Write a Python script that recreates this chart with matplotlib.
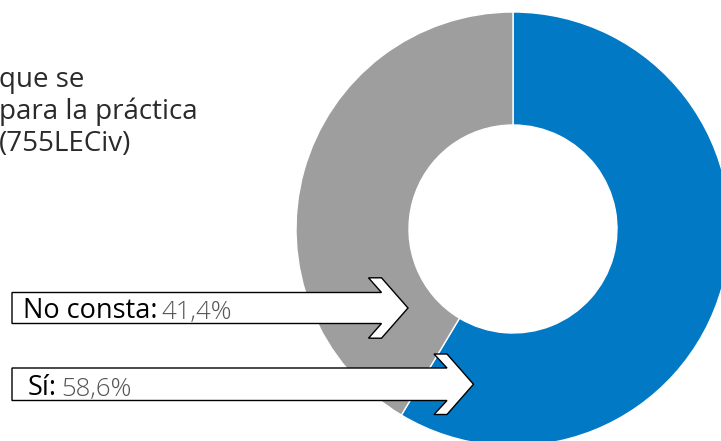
import matplotlib.pyplot as plt
from matplotlib.patches import Polygon

# Datos
categorias = ['Sí', 'No consta']
porcentajes = [58.6, 41.4]
colores = ['#0279c5', '#9e9e9e']
etiquetas_valor = ['58,6%', '41,4%']
titulo = ['que se', 'para la práctica', '(755LECiv)']

plt.rcParams['font.family'] = ['Open Sans', 'DejaVu Sans']

fig = plt.figure(figsize=(7.21, 4.41), dpi=100)
ax = fig.add_axes([0, 0, 1, 1])

# anillo (eje y invertido: counterclock=True se ve en sentido horario)
ax.pie(porcentajes, colors=colores, startangle=-90, counterclock=True,
       center=(513, 229), radius=217,
       wedgeprops=dict(width=113, edgecolor='white', linewidth=1))

ax.set_xlim(0, 721)
ax.set_ylim(441, 0)
ax.set_aspect('equal')
ax.axis('off')

# texto de cabecera (cortado a la izquierda)
for i, linea in enumerate(titulo):
    ax.text(-1, 87 + i * 32, linea, fontsize=20, color='#2a2a2a',
            va='baseline', ha='left')


def flecha(y0, y1, x_cuerpo, x_punta, extra, x_izq=12):
    ym = (y0 + y1) / 2
    grosor = 13
    pts = [(x_izq, y0), (x_cuerpo, y0), (x_cuerpo - grosor, y0 - extra),
           (x_cuerpo, y0 - extra), (x_punta, ym), (x_cuerpo, y1 + extra),
           (x_cuerpo - grosor, y1 + extra), (x_cuerpo, y1), (x_izq, y1)]
    ax.add_patch(Polygon(pts, closed=True, facecolor='white', edgecolor='black',
                         linewidth=1, zorder=5))


flecha(292.5, 323.5, 381.5, 408, 14.7)
flecha(368, 400.5, 447, 473.5, 14)


def etiqueta(x, y, nombre, valor):
    t = ax.text(x, y, nombre + ':', fontsize=19.5, color='black', zorder=6,
                fontweight='medium', va='bottom')
    ax.annotate(valor, xy=(1, 0), xycoords=t, xytext=(3, 0),
                textcoords='offset points', fontsize=18.5, color='#555555',
                fontweight='light', zorder=6, va='bottom')


etiqueta(23, 325, categorias[1], etiquetas_valor[1])
etiqueta(28, 402, categorias[0], etiquetas_valor[0])

plt.savefig('out.png', dpi=100)
